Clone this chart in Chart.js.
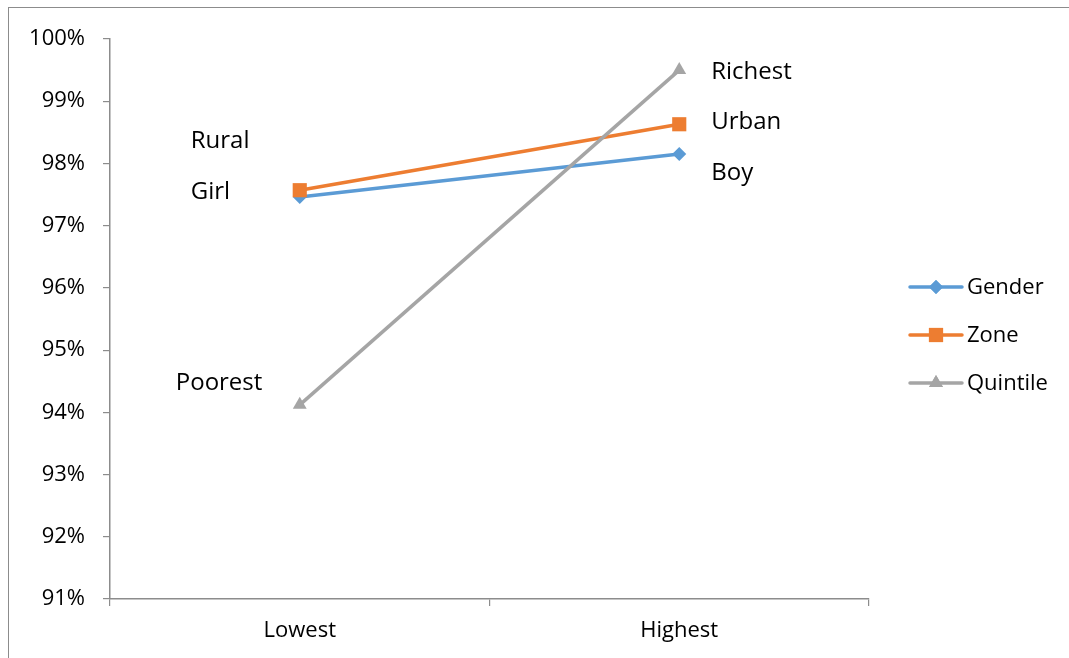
<!DOCTYPE html>
<html>
<head>
    <meta charset="utf-8">
    <title>Lowest vs Highest</title>
    <script src="https://cdn.jsdelivr.net/npm/chart.js@4.4.1/dist/chart.umd.min.js"></script>
    <style>
        html, body {
            margin: 0;
            padding: 0;
            background: #fff;
            overflow: hidden;
        }
        #frame {
            position: absolute;
            left: 8px;
            top: 7px;
            width: 1200px;
            height: 800px;
            border: 1.5px solid #8c8c8c;
        }
        #wrap {
            position: absolute;
            left: 0;
            top: 0;
            width: 1069px;
            height: 658px;
        }
    </style>
</head>
<body>
    <div id="frame"></div>
    <div id="wrap"><canvas id="chart"></canvas></div>

    <script>
        // data
        const categories = ["Lowest", "Highest"];
        const seriesNames = ["Gender", "Zone", "Quintile"];
        const gender = [97.46, 98.15];
        const zone = [97.57, 98.63];
        const quintile = [94.12, 99.5];
        const genderLabels = ["Girl", "Boy"];
        const zoneLabels = ["Rural", "Urban"];
        const quintileLabels = ["Poorest", "Richest"];
        const yTicks = [91, 92, 93, 94, 95, 96, 97, 98, 99, 100];

        const colors = ["#5b9bd5", "#ed7d31", "#a5a5a5"];
        const markers = ["rectRot", "rect", "triangle"];
        const markerSizes = [7, 10, 8];

        // where each point label sits, relative to its point (dx, dy)
        const labelOffsets = [
            [[-109, -5], [32, 19]],
            [[-109, -49], [32, -2]],
            [[-124, -22], [32, 2]]
        ];

        const fontFamily = "'Open Sans', 'DejaVu Sans', sans-serif";

        const pointLabels = {
            id: "pointLabels",
            afterDatasetsDraw(chart) {
                const ctx = chart.ctx;
                const all = [genderLabels, zoneLabels, quintileLabels];
                ctx.save();
                ctx.font = "24px " + fontFamily;
                ctx.fillStyle = "#000";
                ctx.textAlign = "left";
                ctx.textBaseline = "middle";
                chart.data.datasets.forEach((ds, i) => {
                    const meta = chart.getDatasetMeta(i);
                    meta.data.forEach((pt, j) => {
                        const off = labelOffsets[i][j];
                        ctx.fillText(all[i][j], pt.x + off[0], pt.y + off[1]);
                    });
                });
                ctx.restore();
            }
        };

        // legend with line + marker, like the spreadsheet one
        const sideLegend = {
            id: "sideLegend",
            afterDraw(chart) {
                const ctx = chart.ctx;
                const x0 = 910, x1 = 962;
                const rows = [287, 335, 383];
                ctx.save();
                ctx.font = "22px " + fontFamily;
                ctx.textBaseline = "middle";
                chart.data.datasets.forEach((ds, i) => {
                    const y = rows[i];
                    ctx.strokeStyle = ds.borderColor;
                    ctx.lineWidth = 3.5;
                    ctx.lineCap = "round";
                    ctx.beginPath();
                    ctx.moveTo(x0, y);
                    ctx.lineTo(x1, y);
                    ctx.stroke();
                    ctx.fillStyle = ds.borderColor;
                    Chart.helpers.drawPoint(ctx, {
                        pointStyle: ds.pointStyle,
                        radius: ds.pointRadius,
                        borderWidth: 0,
                        rotation: 0
                    }, (x0 + x1) / 2, y);
                    ctx.fill();
                    ctx.fillStyle = "#000";
                    ctx.fillText(ds.label, 967, y + 1);
                });
                ctx.restore();
            }
        };

        const values = [gender, zone, quintile];
        const datasets = seriesNames.map((name, i) => ({
            label: name,
            data: values[i],
            borderColor: colors[i],
            backgroundColor: colors[i],
            borderWidth: 3.5,
            pointStyle: markers[i],
            pointRadius: markerSizes[i],
            pointHoverRadius: markerSizes[i],
            pointBorderWidth: 0,
            order: 2 - i
        }));

        new Chart(document.getElementById("chart"), {
            type: "line",
            data: { labels: categories, datasets: datasets },
            options: {
                responsive: true,
                maintainAspectRatio: false,
                animation: false,
                layout: { padding: { top: 39, right: 200, left: 0, bottom: 0 } },
                plugins: {
                    legend: { display: false },
                    tooltip: { enabled: false },
                    title: { display: false }
                },
                scales: {
                    x: {
                        offset: true,
                        grid: {
                            display: true,
                            offset: true,
                            drawOnChartArea: false,
                            drawTicks: true,
                            tickLength: 7,
                            color: "#8c8c8c",
                            lineWidth: 1.2
                        },
                        border: { display: true, color: "#8c8c8c", width: 1.5 },
                        ticks: {
                            color: "#000",
                            padding: 12,
                            font: { family: fontFamily, size: 22 }
                        },
                        afterFit(scale) { scale.height = 59; }
                    },
                    y: {
                        min: yTicks[0],
                        max: yTicks[yTicks.length - 1],
                        afterBuildTicks(scale) {
                            scale.ticks = yTicks.map(v => ({ value: v }));
                        },
                        grid: {
                            display: true,
                            drawOnChartArea: false,
                            drawTicks: true,
                            tickLength: 7,
                            color: "#8c8c8c",
                            lineWidth: 1.2
                        },
                        border: { display: true, color: "#8c8c8c", width: 1.5 },
                        ticks: {
                            color: "#000",
                            padding: 18,
                            font: { family: fontFamily, size: 22 },
                            callback: v => v + "%"
                        },
                        afterFit(scale) { scale.width = 110; }
                    }
                }
            },
            plugins: [pointLabels, sideLegend]
        });
    </script>
</body>
</html>
